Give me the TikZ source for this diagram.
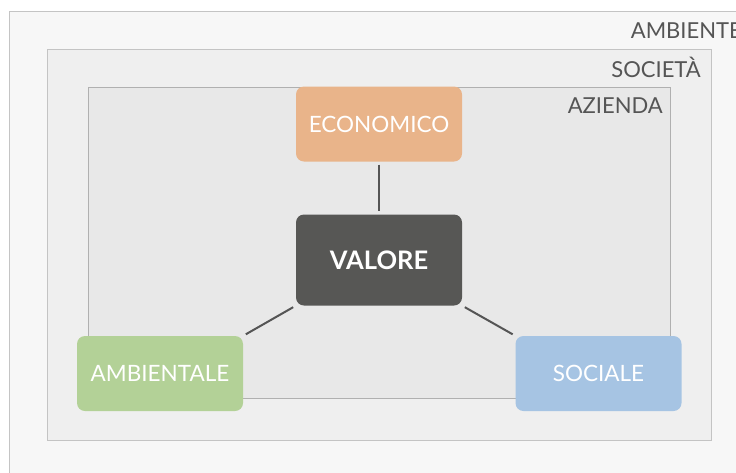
\documentclass[tikz,border=0pt]{standalone}
\usepackage{fontspec}
\setmainfont{Lato}
\definecolor{bgA}{HTML}{F7F7F7}
\definecolor{bgS}{HTML}{EFEFEF}
\definecolor{bgZ}{HTML}{E8E8E8}
\definecolor{frameA}{HTML}{C4C4C4}
\definecolor{frameZ}{HTML}{B0B0B0}
\definecolor{cEco}{HTML}{E9B48A}
\definecolor{cVal}{HTML}{575755}
\definecolor{cAmb}{HTML}{B3D197}
\definecolor{cSoc}{HTML}{A6C4E3}
\definecolor{cTxt}{HTML}{555555}
\definecolor{cLine}{HTML}{555555}
\tikzset{
  pillar/.style={rectangle, rounded corners=8pt, minimum width=166pt, minimum height=75pt, inner sep=0pt, text=white, font=\fontsize{22.5}{26}\selectfont},
  frame/.style={line width=1pt},
  lbl/.style={text=cTxt, font=\fontsize{22}{26}\selectfont, inner sep=0pt, anchor=base east},
  link/.style={draw=cLine, line width=2pt, shorten <=3pt, shorten >=3pt}
}
\begin{document}
\begin{tikzpicture}[x=1pt,y=-1pt]
\useasboundingbox (0,0) rectangle (736,472);
\clip (0,0) rectangle (736,472);
\fill[white] (0,0) rectangle (736,472);
\filldraw[fill=bgA, draw=frameA, frame] (9.5,11.5) rectangle (760,500);
\filldraw[fill=bgS, draw=frameA, frame] (47.5,49.5) rectangle (711.5,440.5);
\filldraw[fill=bgZ, draw=frameZ, frame] (88.5,87.5) rectangle (670.5,398.5);
\node[lbl] (tA) at (742,38) {AMBIENTE};
\node[lbl] (tS) at (701,77) {SOCIETÀ};
\node[lbl] (tZ) at (663,113) {AZIENDA};
\node[pillar, fill=cEco] (eco) at (379,124) {ECONOMICO};
\node[pillar, fill=cVal, minimum height=91pt, font=\fontsize{25.5}{30}\selectfont\bfseries] (val) at (379,260) {VALORE};
\node[pillar, fill=cAmb] (amb) at (160,373.5) {AMBIENTALE};
\node[pillar, fill=cSoc] (soc) at (598.5,373.5) {SOCIALE};
\draw[link] (eco.south) -- (val.north);
\draw[link] (val.south west) -- (amb.north east);
\draw[link] (val.south east) -- (soc.north west);
\end{tikzpicture}
\end{document}
